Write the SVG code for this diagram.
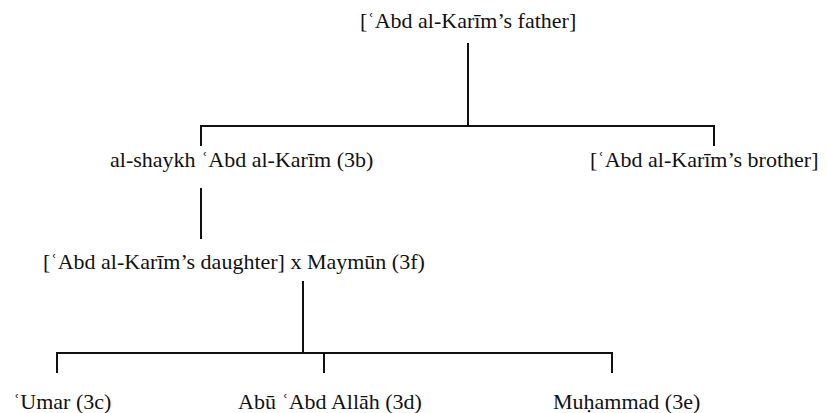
<svg xmlns="http://www.w3.org/2000/svg" width="827" height="413" viewBox="0 0 827 413">
<style>
text{font-family:"Liberation Serif","Times New Roman","DejaVu Serif",serif;font-size:22px;fill:#111}
.c{fill:none;stroke:#111;stroke-width:2;stroke-linecap:butt;stroke-linejoin:miter}
</style>
<rect width="827" height="413" fill="#fff"/>
<g id="connectors">
<path class="c" d="M468 43V126M201 146V126H714V146"/>
<path class="c" d="M201 188V239"/>
<path class="c" d="M303 281V353M57 373V353H612V373M324 353V373"/>
</g>
<g id="father"><text x="360" y="28">[ʿAbd al-Karīm’s father]</text></g>
<g id="abdalkarim"><text x="110" y="167">al-shaykh ʿAbd al-Karīm (3b)</text></g>
<g id="brother"><text x="590" y="167">[ʿAbd al-Karīm’s brother]</text></g>
<g id="daughter"><text x="43" y="269">[ʿAbd al-Karīm’s daughter] x Maymūn (3f)</text></g>
<g id="umar"><text x="13" y="409">ʿUmar (3c)</text></g>
<g id="abuabdallah"><text x="238" y="409">Abū ʿAbd Allāh (3d)</text></g>
<g id="muhammad"><text x="553" y="409">Muḥammad (3e)</text></g>
</svg>
